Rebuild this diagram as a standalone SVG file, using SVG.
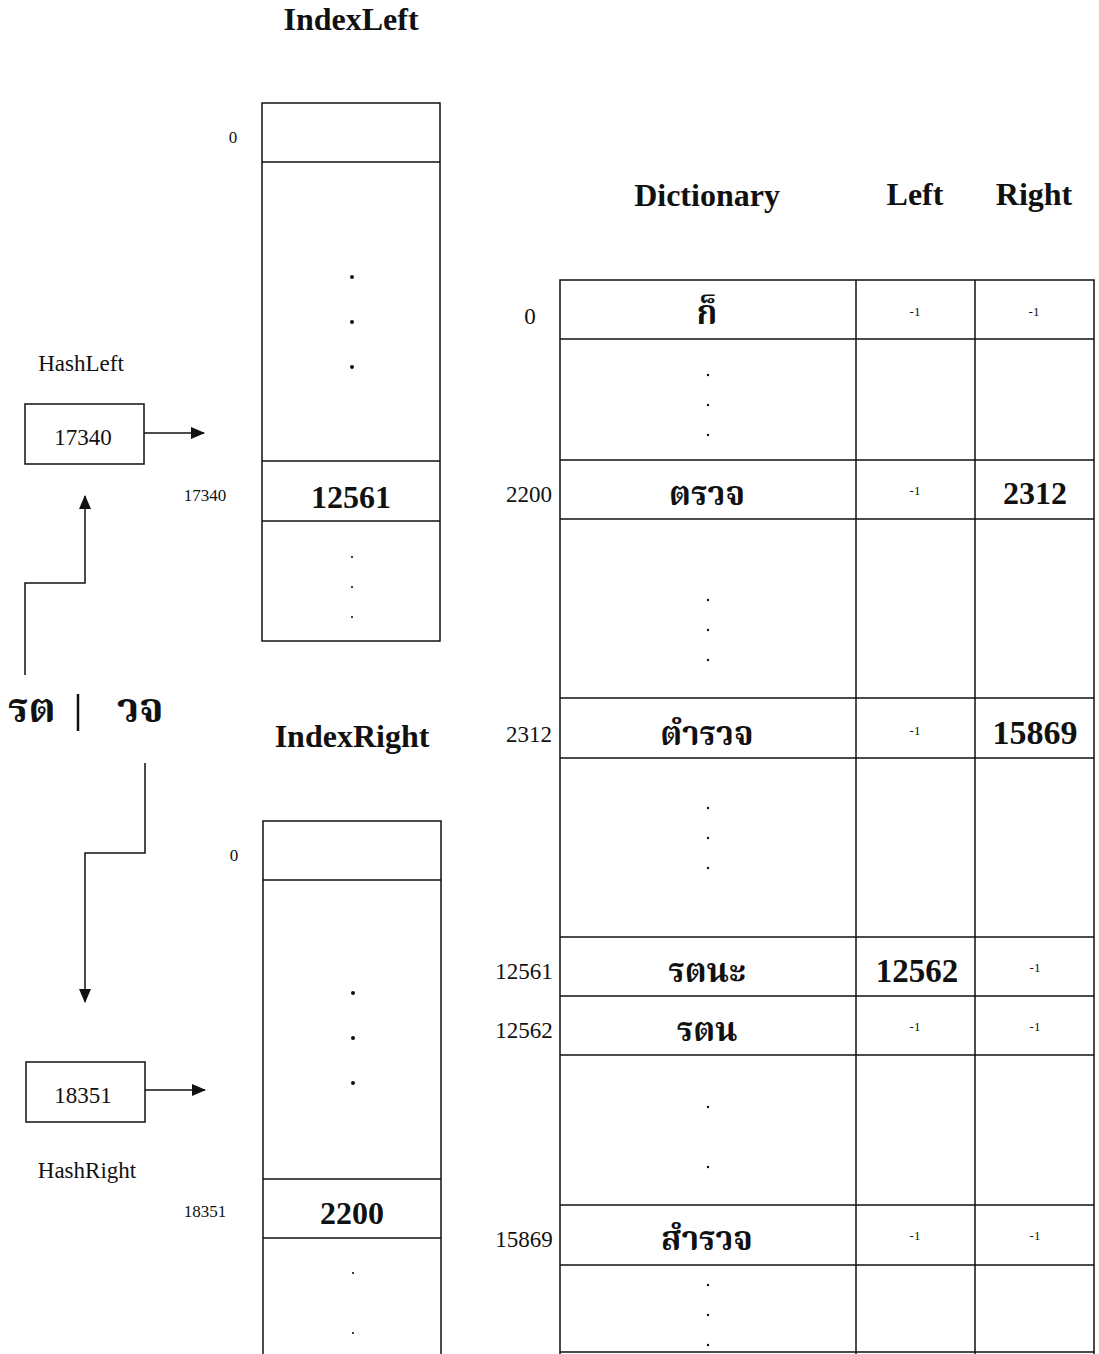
<svg xmlns="http://www.w3.org/2000/svg" width="1099" height="1354" viewBox="0 0 1099 1354">
<style>
text{font-family:"Liberation Serif","Noto Serif Thai","Noto Sans Thai Looped","Loma","Garuda","Norasi","Noto Sans Thai","DejaVu Sans",serif;fill:#111}
.t{font-weight:bold;font-size:32px;text-anchor:middle}
.big{font-weight:bold;font-size:32px;text-anchor:middle}
.lbl{font-size:23px;text-anchor:middle}
.sm{font-size:17px;text-anchor:middle}
.m1{font-size:13px;text-anchor:middle}
.th{font-weight:bold;font-size:33px;text-anchor:middle}
.box{fill:#fff;stroke:#111;stroke-width:1.5}
.ln{stroke:#111;stroke-width:1.5;fill:none}
.dot{fill:#111}
</style>
<defs>
<marker id="ah" markerWidth="14" markerHeight="12" refX="13" refY="6" orient="auto" markerUnits="userSpaceOnUse">
<path d="M0,0 L14,6 L0,12 Z" fill="#111"/>
</marker>
</defs>

<g id="indexLeft">
<text class="t" x="351" y="30">IndexLeft</text>
<rect class="box" x="262" y="103" width="178" height="538"/>
<line class="ln" x1="262" y1="162" x2="440" y2="162"/>
<line class="ln" x1="262" y1="461" x2="440" y2="461"/>
<line class="ln" x1="262" y1="521" x2="440" y2="521"/>
<text class="sm" x="233" y="143">0</text>
<circle class="dot" cx="352" cy="277" r="2"/>
<circle class="dot" cx="352" cy="322" r="2"/>
<circle class="dot" cx="352" cy="367" r="2"/>
<text class="sm" x="205" y="501">17340</text>
<text class="big" x="351" y="508">12561</text>
<circle class="dot" cx="352" cy="557" r="1.1"/>
<circle class="dot" cx="352" cy="587" r="1.1"/>
<circle class="dot" cx="352" cy="617" r="1.1"/>
</g>

<g id="indexRight">
<text class="t" x="352" y="747">IndexRight</text>
<path class="ln" d="M263,1354 V821 H441 V1354"/>
<line class="ln" x1="263" y1="880" x2="441" y2="880"/>
<line class="ln" x1="263" y1="1179" x2="441" y2="1179"/>
<line class="ln" x1="263" y1="1238" x2="441" y2="1238"/>
<text class="sm" x="234" y="861">0</text>
<circle class="dot" cx="353" cy="993" r="2"/>
<circle class="dot" cx="353" cy="1038" r="2"/>
<circle class="dot" cx="353" cy="1083" r="2"/>
<text class="sm" x="205" y="1217">18351</text>
<text class="big" x="352" y="1224">2200</text>
<circle class="dot" cx="353" cy="1273" r="1.1"/>
<circle class="dot" cx="353" cy="1333" r="1.1"/>
</g>

<g id="hashLeft">
<text class="lbl" x="81" y="371">HashLeft</text>
<rect class="box" x="25" y="404" width="119" height="60"/>
<text class="lbl" x="83" y="445">17340</text>
</g>

<g id="hashRight">
<rect class="box" x="26" y="1062" width="119" height="60"/>
<text class="lbl" x="83" y="1103">18351</text>
<text class="lbl" x="87" y="1178">HashRight</text>
</g>

<g id="key">
<text x="8" y="722" style="font-weight:bold;font-size:41px">รต</text>
<line class="ln" x1="78" y1="694" x2="78" y2="731" style="stroke-width:2.5"/>
<text x="117" y="722" style="font-weight:bold;font-size:41px">วจ</text>
</g>

<g id="dictionary">
<text class="t" x="707" y="206">Dictionary</text>
<text class="t" x="915" y="205">Left</text>
<text class="t" x="1034" y="205">Right</text>
<path class="ln" d="M560,1354 V280 H1094 V1354"/>
<line class="ln" x1="856" y1="280" x2="856" y2="1354"/>
<line class="ln" x1="975" y1="280" x2="975" y2="1354"/>
<line class="ln" x1="560" y1="339" x2="1094" y2="339"/>
<line class="ln" x1="560" y1="460" x2="1094" y2="460"/>
<line class="ln" x1="560" y1="519" x2="1094" y2="519"/>
<line class="ln" x1="560" y1="698" x2="1094" y2="698"/>
<line class="ln" x1="560" y1="758" x2="1094" y2="758"/>
<line class="ln" x1="560" y1="937" x2="1094" y2="937"/>
<line class="ln" x1="560" y1="996" x2="1094" y2="996"/>
<line class="ln" x1="560" y1="1055" x2="1094" y2="1055"/>
<line class="ln" x1="560" y1="1205" x2="1094" y2="1205"/>
<line class="ln" x1="560" y1="1265" x2="1094" y2="1265"/>
<line class="ln" x1="560" y1="1352" x2="1094" y2="1352"/>

<text class="lbl" x="530" y="324">0</text>
<text class="th" x="707" y="324">ก็</text>
<text class="m1" x="915" y="316">-1</text>
<text class="m1" x="1034" y="316">-1</text>
<circle class="dot" cx="708" cy="375" r="1.2"/>
<circle class="dot" cx="708" cy="405" r="1.2"/>
<circle class="dot" cx="708" cy="435" r="1.2"/>

<text class="lbl" x="529" y="502">2200</text>
<text class="th" x="707" y="505">ตรวจ</text>
<text class="m1" x="915" y="495">-1</text>
<text class="big" x="1035" y="504">2312</text>
<circle class="dot" cx="708" cy="600" r="1.2"/>
<circle class="dot" cx="708" cy="630" r="1.2"/>
<circle class="dot" cx="708" cy="660" r="1.2"/>

<text class="lbl" x="529" y="742">2312</text>
<text class="th" x="707" y="745">ตำรวจ</text>
<text class="m1" x="915" y="735">-1</text>
<text class="big" x="1035" y="744" style="font-size:34px">15869</text>
<circle class="dot" cx="708" cy="808" r="1.2"/>
<circle class="dot" cx="708" cy="838" r="1.2"/>
<circle class="dot" cx="708" cy="868" r="1.2"/>

<text class="lbl" x="524" y="979">12561</text>
<text class="th" x="707" y="982">รตนะ</text>
<text class="big" x="917" y="982" style="font-size:33px">12562</text>
<text class="m1" x="1035" y="972">-1</text>

<text class="lbl" x="524" y="1038">12562</text>
<text class="th" x="707" y="1041">รตน</text>
<text class="m1" x="915" y="1031">-1</text>
<text class="m1" x="1035" y="1031">-1</text>
<circle class="dot" cx="708" cy="1107" r="1.2"/>
<circle class="dot" cx="708" cy="1167" r="1.2"/>

<text class="lbl" x="524" y="1247">15869</text>
<text class="th" x="707" y="1250">สำรวจ</text>
<text class="m1" x="915" y="1240">-1</text>
<text class="m1" x="1035" y="1240">-1</text>
<circle class="dot" cx="708" cy="1285" r="1.2"/>
<circle class="dot" cx="708" cy="1315" r="1.2"/>
<circle class="dot" cx="708" cy="1345" r="1.2"/>
</g>

<g id="connectors">
<line class="ln" x1="144" y1="433" x2="204" y2="433" marker-end="url(#ah)"/>
<line class="ln" x1="145" y1="1090" x2="205" y2="1090" marker-end="url(#ah)"/>
<path class="ln" d="M25,675 V583 H85 V496" marker-end="url(#ah)"/>
<path class="ln" d="M145,763 V853 H85 V1002" marker-end="url(#ah)"/>
</g>
</svg>
